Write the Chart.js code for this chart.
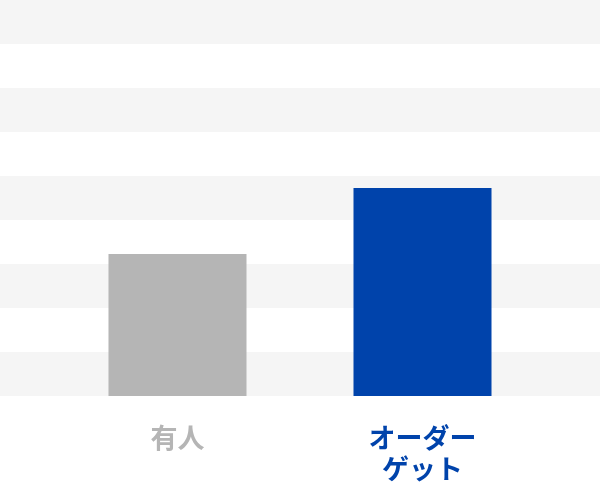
<!DOCTYPE html>
<html>
<head>
<meta charset="utf-8">
<script src="https://cdn.jsdelivr.net/npm/chart.js"></script>
<style>
  html, body { margin: 0; padding: 0; background: #fff; }
</style>
</head>
<body>
<canvas id="myChart" width="600" height="482"></canvas>
<script>
// data
var categories = ['有人', ['オーダー', 'ゲット']];
var values = [32.3, 47.3];
var barColors = ['#b5b5b5', '#0043ab'];
var labelColors = ['#b5b5b5', '#0043ab'];
var yMax = 90;
var yStep = 10;

// alternating stripes drawn full width from the y scale
var stripes = {
    id: 'stripes',
    beforeDatasetsDraw: function(chart) {
        var ctx = chart.ctx;
        var y = chart.scales.y;
        ctx.save();
        for (var v = 0, i = 0; v < yMax; v += yStep, i++) {
            if (i % 2 === 0) {
                var top = y.getPixelForValue(v + yStep);
                var bottom = y.getPixelForValue(v);
                ctx.fillStyle = '#f5f5f5';
                ctx.fillRect(0, top, chart.width, bottom - top);
            }
        }
        ctx.restore();
    }
};

var ctx = document.getElementById('myChart').getContext('2d');
var chart = new Chart(ctx, {
    type: 'bar',
    data: {
        labels: categories,
        datasets: [{
            data: values,
            backgroundColor: barColors,
            borderWidth: 0,
            barPercentage: 1,
            categoryPercentage: 0.5633
        }]
    },
    options: {
        responsive: false,
        animation: false,
        layout: { padding: { left: 55, right: 55, top: 0, bottom: 0 } },
        plugins: {
            legend: { display: false },
            tooltip: { enabled: false }
        },
        scales: {
            x: {
                grid: { display: false, drawTicks: false },
                border: { display: false },
                afterFit: function(scale) { scale.height = 86; },
                ticks: {
                    padding: 26,
                    color: function(c) { return labelColors[c.index]; },
                    font: { family: '"Noto Sans CJK JP", "Noto Sans", sans-serif', size: 27, weight: 'bold', lineHeight: 31 / 27 },
                    maxRotation: 0
                }
            },
            y: {
                display: false,
                min: 0,
                max: yMax,
                ticks: { stepSize: yStep }
            }
        }
    },
    plugins: [stripes]
});
</script>
</body>
</html>
